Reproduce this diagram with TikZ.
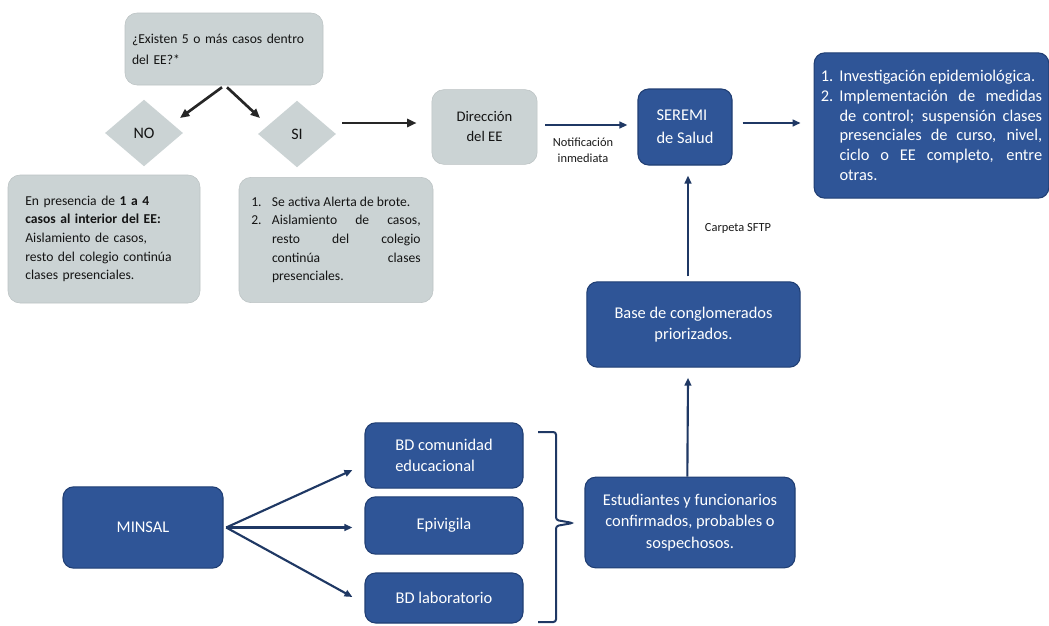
\documentclass[tikz,border=0pt]{standalone}
\usepackage{fontspec}
\setmainfont{Carlito}
\usepackage{tikz}
\usetikzlibrary{shapes.geometric,arrows.meta}
\definecolor{boxgray}{HTML}{CBD3D4}
\definecolor{boxblue}{HTML}{2F5597}
\definecolor{bordblue}{HTML}{203E73}
\definecolor{arrowblue}{HTML}{1F3864}
\hyphenpenalty=10000
\exhyphenpenalty=10000
\newlength{\itemind}
\newcommand{\listitem}[2]{\hangindent=\itemind\hangafter=1\noindent\hbox to\itemind{#1\hfil}#2\par}
\tikzset{graybox/.style={rectangle, rounded corners=9pt, fill=boxgray, draw=boxgray!92!black,
                         text=black!92, font=\fontsize{10.2pt}{14pt}\selectfont},
         bluebox/.style={rectangle, rounded corners=8pt, fill=boxblue, draw=bordblue,
                         line width=0.8pt, text=white, font=\fontsize{12.3pt}{16pt}\selectfont},
         decision/.style={diamond, fill=boxgray, minimum width=58.5pt, minimum height=50pt,
                          inner sep=0pt, text=black!92, font=\fontsize{12pt}{14pt}\selectfont},
         justified/.style={text width=#1, align=justify,
                           execute at begin node={\hyphenpenalty=10000\exhyphenpenalty=10000\tolerance=10000\parindent=0pt}},
         karrow/.style={line width=2pt, black!85, -{Triangle[length=7pt,width=6pt]}},
         barrow/.style={line width=1.6pt, arrowblue, -{Triangle[length=6pt,width=5pt]}},
         bracket/.style={line width=1.5pt, arrowblue, rounded corners=2pt},
         edgelabel/.style={align=center, text=black!90, font=\fontsize{9.3pt}{12pt}\selectfont}}
\begin{document}
\begin{tikzpicture}[x=0.75pt,y=-0.75pt]
                \useasboundingbox (0,0) rectangle (1049,625);

                \node[graybox, minimum width=148.5pt, minimum height=54pt, text width=138pt, align=left,
                      font=\fontsize{10.2pt}{15.5pt}\selectfont] (ques) at (224,49) {¿Existen 5 o más casos dentro\\del EE?*};

                \node[decision] (no) at (144,133) {NO};
                \node[decision] (si) at (297,134) {SI};

                \draw[karrow] ([shift={(-2,2)}]ques.south) -- ([shift={(36,-15)}]no.center);
                \draw[karrow] ([shift={(3,2)}]ques.south) -- ([shift={(-37,-16)}]si.center);

                \node[graybox, minimum width=144pt, minimum height=96pt, text width=118pt, align=left] (notxt) at (104,239)
                      {En presencia de \textbf{1 a 4}\\\textbf{casos al interior del EE:}\\Aislamiento de casos,\\resto del colegio continúa\\clases presenciales.};
                \node[graybox, minimum width=145.5pt, minimum height=94pt, justified=127pt] (sitxt) at (336,240)
                      {\setlength{\itemind}{15.5pt}\listitem{1.}{Se activa Alerta de brote.}\listitem{2.}{Aislamiento de casos,\linebreak resto del colegio\linebreak continúa clases\linebreak presenciales.}};

                \node[graybox, minimum width=79pt, minimum height=56pt, align=center,
                      font=\fontsize{11pt}{15pt}\selectfont] (dir) at (484.5,127) {Dirección\\del EE};
                \node[bluebox, minimum width=70.5pt, minimum height=57pt, align=left,
                      font=\fontsize{12.3pt}{17pt}\selectfont] (seremi) at (685,127) {SEREMI\\de Salud};
                \node[bluebox, minimum width=176pt, minimum height=109pt, justified=166pt,
                      font=\fontsize{12.3pt}{14.8pt}\selectfont] (medidas) at (931.5,125.5)
                      {\setlength{\itemind}{14pt}\listitem{1.}{Investigación epidemiológica.}\listitem{2.}{Implementación de medidas\linebreak de control; suspensión clases\linebreak presenciales de curso, nivel,\linebreak ciclo o EE completo, entre\linebreak otras.}};

                \draw[karrow] ([shift={(6,-11)}]si.east) -- ([shift={(-15,-4)}]dir.west);
                \draw[barrow] ([shift={(8,-2)}]dir.east) -- ([shift={(-10,-2)}]seremi.west);
                \draw[barrow] ([shift={(10,-4)}]seremi.east) -- ([shift={(-13,-2.5)}]medidas.west);

                \node[edgelabel] (notif) at (583,150) {Notificación\\inmediata};

                \node[bluebox, minimum width=160pt, minimum height=64pt, align=center] (base) at (693.5,324.5) {Base de conglomerados\\priorizados.};
                \node[bluebox, minimum width=157.5pt, minimum height=68pt, align=center] (est) at (690,522.5) {Estudiantes y funcionarios\\confirmados, probables o\\sospechosos.};

                \draw[barrow] ([shift={(-5.5,-5)}]base.north) -- ([shift={(3,10)}]seremi.south);
                \draw[barrow] ([xshift=-2]est.north) -- ([shift={(-5.5,10)}]base.south);

                \node[edgelabel] (sftp) at (738,228) {Carpeta SFTP};

                \node[bluebox, minimum width=120pt, minimum height=61pt] (minsal) at (143,527.5) {MINSAL};
                \node[bluebox, minimum width=118.5pt, minimum height=49pt, align=left] (bdcom) at (444,455.5) {BD comunidad\\educacional};
                \node[bluebox, minimum width=118.5pt, minimum height=43pt] (epi) at (444,525.5) {Epivigila};
                \node[bluebox, minimum width=118.5pt, minimum height=37.5pt] (bdlab) at (444,598) {BD laboratorio};

                \draw[barrow] ([xshift=2]minsal.east) -- ([shift={(-12,14.5)}]bdcom.west);
                \draw[barrow] ([xshift=2]minsal.east) -- ([shift={(-12,2)}]epi.west);
                \draw[barrow] ([xshift=2]minsal.east) -- ([shift={(-12,-1)}]bdlab.west);

                \draw[bracket] (538,432) -- (556,432) -- (556,520) -- (573,523) -- (556,526) -- (556,622) -- (538,622);
            \end{tikzpicture}
\end{document}
